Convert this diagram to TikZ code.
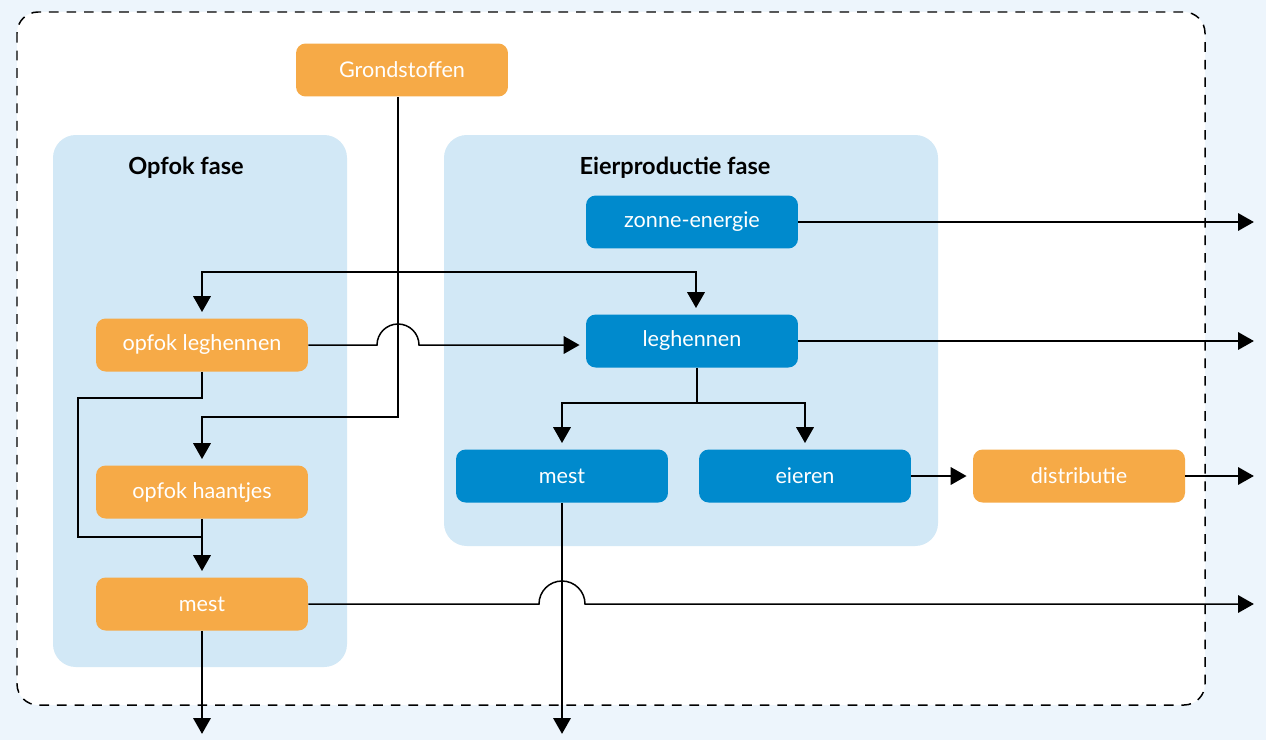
\documentclass[tikz,border=0pt]{standalone}
\usepackage{fontspec}
\setmainfont{Lato}
\usepackage{tikz}
\usetikzlibrary{calc,positioning,arrows.meta}

\definecolor{oranje}{HTML}{F6AA47}
\definecolor{blauw}{HTML}{008ACD}
\definecolor{paneel}{HTML}{D2E8F6}
\definecolor{achter}{HTML}{EDF5FC}

\begin{document}
\begin{tikzpicture}[
                x=0.02cm,y=-0.02cm,
                box/.style={fill=#1,rounded corners=5.5pt,text=white,minimum width=4.24cm,minimum height=1.06cm,
                    font=\fontsize{12.3}{14}\selectfont},
                title/.style={font=\fontsize{13.4}{15}\selectfont\bfseries},
                line/.style={line width=0.85pt},
                arrow/.style={line,-{Triangle[length=9pt,width=10pt]},shorten >=3.5pt}
            ]
                \useasboundingbox (0,0) rectangle (1266,740);
                \fill[achter] (0,0) rectangle (1266,740);
                \draw[fill=white,line width=0.85pt,dash pattern=on 5.5pt off 4.5pt,rounded corners=12pt] (17,12) rectangle (1205,705);

                \fill[paneel,rounded corners=13pt] (53,135) rectangle (347,667);
                \fill[paneel,rounded corners=13pt] (444,135) rectangle (938,546);
                \node[title] (opfok) at (186,168) {Opfok fase};
                \node[title] (eierprod) at (675,168) {Eierproductie fase};

                \node[box=oranje] (gron) at (402,70) {Grondstoffen};
                \node[box=blauw] (zon) at (692,222) {zonne-energie};
                \node[box=oranje] (opleg) at (202,345) {opfok leghennen};
                \node[box=blauw] (leg) at (692,341) {leghennen};
                \node[box=oranje] (ophaan) at (202,492) {opfok haantjes};
                \node[box=oranje] (mestL) at (202,604) {mest};
                \node[box=blauw] (mestR) at (562,476) {mest};
                \node[box=blauw] (eier) at (805,476) {eieren};
                \node[box=oranje] (distr) at (1079,476) {distributie};

                \coordinate (rand) at (1260,0);
                \coordinate (onder) at (0,740);
                \coordinate (gsplit) at (398,272);
                \coordinate (gturn) at (398,417);
                \coordinate (lloop) at (78,398);
                \coordinate (ljoin) at (mestL.north |- 0,537);
                \coordinate (lsplit) at (697,403);

                \draw[line] (gron.south -| gsplit) -- (gsplit);
                \draw[arrow] (gsplit) -- (gturn) -| (ophaan.north);
                \draw[arrow] (gsplit) -| (opleg.north);
                \draw[arrow] (gsplit) -| ([xshift=0.08cm]leg.north);

                \draw[arrow] (opleg.east) -- ([xshift=-0.42cm]gsplit |- opleg.east)
                    arc[start angle=180,end angle=0,radius=0.42cm] -- (leg.west |- opleg.east);
                \draw[line] (opleg.south) |- (lloop) |- (ljoin);
                \draw[arrow] (ophaan.south) -- (mestL.north);

                \draw[arrow] (mestL.east) -- ([xshift=-0.46cm]mestR.south |- mestL.east)
                    arc[start angle=180,end angle=0,radius=0.46cm] -- (mestL.east -| rand);
                \draw[arrow] (mestL.south) -- (mestL.south |- onder);
                \draw[arrow] (mestR.south) -- (mestR.south |- onder);

                \draw[line] (lsplit |- leg.south) -- (lsplit);
                \draw[arrow] (lsplit) -| (mestR.north);
                \draw[arrow] (lsplit) -| (eier.north);

                \draw[arrow] (zon.east) -- (zon.east -| rand);
                \draw[arrow] (leg.east) -- (leg.east -| rand);
                \draw[arrow] (eier.east) -- (distr.west);
                \draw[arrow] (distr.east) -- (distr.east -| rand);
            \end{tikzpicture}
\end{document}
